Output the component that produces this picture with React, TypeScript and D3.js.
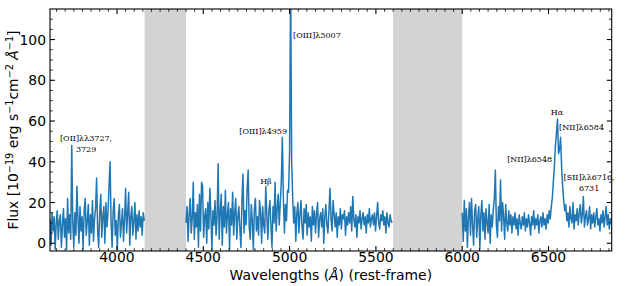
import { useEffect, useRef } from "react";
import * as d3 from "d3";

// spectrum sampled every 6 Å, three pieces between the masked regions
const STEP = 6;
const blueStart = 3612;
const blueFlux = [
  12, -1, 15, 6, 13, -3, 10, 16, 2, 11,
  14, -2, 9, 17, 3, 12, -3, 22, 5, 14,
  2, 48, 10, -2, 15, 4, 28, 12, 0, 18,
  6, 13, -3, 16, 22, 4, 11, 19, -1, 14,
  5, 21, 1, 12, 17, 32, 6, -2, 15, 24,
  3, 13, 18, 0, 20, 8, 15, 28, 40, 10,
  -2, 16, 22, 4, 11, -3, 14, 19, 3, 10,
  17, 1, 12, 27, 5, 15, 25, -1, 13, 18,
  4, 11, 20, 2, 14, 6, 16, 8, 13, 4,
  15, 11,
];
const midStart = 4400;
const midFlux = [
  10, 18, 1, 14, 22, 5, 12, 30, 2, 15,
  8, 19, -2, 24, 6, 30, 28, 3, 13, 17,
  0, 20, 7, 27, 14, -3, 16, 9, 21, 4,
  13, 39, 2, 15, 24, -1, 18, 8, 26, 5,
  14, 20, -3, 17, 9, 25, 4, 15, 22, 2,
  13, 18, 7, -2, 21, 34, 5, 16, 9, 27,
  36, 8, 2, 19, 11, -3, 17, 22, 6, 13,
  4, 21, 15, 0, 18, 9, 5, 28, 14, 2,
  16, 21, 8, -2, 18, 10, 30, 6, 17, 24,
  9, 20, 30, 52, 22, 5, 19, 11, 26, 25,
  45, 130, 40, 22, 10, 18, 1, 15, 20, 5,
  14, 21, 8, 2, 17, 10, 19, 4, 15, 8,
  13, 1, 18, 9, 16, 5, 14, 20, 3, 12,
  15, 8, 17, 0, 13, 19, 9, 5, 16, 27,
  12, 6, 21, 14, 8, 15, 3, 13, 9, 17,
  7, 14, 12, 16, 4, 13, 9, 15, 10, 18,
  6, 23, 12, 8, 14, 3, 13, 10, 16, 7,
  12, 15, 9, 13, 5, 14, 10, 17, 8, 12,
  14, 9, 15, 6, 13, 20, 10, 7, 14, 11,
  16, 9, 13, 5, 15, 10, 8, 14, 11, 10,
];
const redStart = 6000;
const redFlux = [
  15, 1, 21, 6, 17, -2, 13, 20, 4, 22,
  9, -1, 16, 19, 3, 12, 18, -3, 14, 21,
  6, 15, 2, 17, 10, 5, 19, 0, 14, 8,
  16, 22, 36, 9, 3, 18, 11, 31, 6, 20,
  13, 2, 19, 10, 6, 16, 9, 14, 5, 13,
  9, 15, 7, 12, 4, 14, 10, 7, 13, 9,
  15, 6, 12, 8, 14, 10, 4, 13, 9, 16,
  7, 12, 9, 14, 5, 11, 13, 8, 15, 9,
  12, 7, 14, 10, 16, 12, 18, 22, 30, 38,
  48, 54, 61, 44, 46, 52, 37, 28, 21, 16,
  19, 11, 15, 8, 18, 12, 10, 20, 7, 14,
  11, 17, 9, 15, 19, 10, 14, 23, 8, 13,
  16, 9, 12, 18, 7, 14, 10, 15, 8, 13,
  17, 9, 12, 6, 14, 10, 16, 8, 13, 18,
  9, 14, 7, 12, 11,
];

const maskStart = [4160, 5600];
const maskEnd = [4400, 6000];

const xTicks = [4000, 4500, 5000, 5500, 6000, 6500];
const yTicks = [0, 20, 40, 60, 80, 100];

type LineLabel = { lines: string[]; w: number; f: number; anchor: string };
const lineLabels: LineLabel[] = [
  { lines: ["[OII]λλ3727,", "3729"], w: 3821, f: 50.2, anchor: "middle" },
  { lines: ["[OIII]λ5007"], w: 5020, f: 100.7, anchor: "start" },
  { lines: ["[OIII]λ4959"], w: 4985, f: 53.6, anchor: "end" },
  { lines: ["Hβ"], w: 4863, f: 29.1, anchor: "middle" },
  { lines: ["Hα"], w: 6549, f: 63, anchor: "middle" },
  { lines: ["[NII]λ6584"], w: 6561, f: 55.6, anchor: "start" },
  { lines: ["[NII]λ6548"], w: 6521, f: 39.9, anchor: "end" },
  { lines: ["[SII]λλ6716,", "6731"], w: 6735, f: 31.1, anchor: "middle" },
];

type Pt = { w: number; f: number };

export default function App() {
  const ref = useRef<SVGSVGElement>(null);

  useEffect(() => {
    if (!ref.current) return;
    const svg = d3.select(ref.current);
    svg.selectAll("*").remove();

    const left = 50, right = 611.7, top = 9, bottom = 251;
    const x = d3.scaleLinear().domain([3612, 6866]).range([left, right]);
    const y = d3.scaleLinear().domain([-3.8, 115]).range([bottom, top]);

    svg
      .append("defs")
      .append("clipPath")
      .attr("id", "plotclip")
      .append("rect")
      .attr("x", left)
      .attr("y", top)
      .attr("width", right - left)
      .attr("height", bottom - top);

    // masked wavelength ranges
    svg
      .append("g")
      .selectAll("rect")
      .data(maskStart.map((s, i) => [s, maskEnd[i]]))
      .join("rect")
      .attr("x", (d) => x(d[0]))
      .attr("y", top)
      .attr("width", (d) => x(d[1]) - x(d[0]))
      .attr("height", bottom - top)
      .attr("fill", "#d3d3d3");

    const pieces: Pt[][] = [
      [blueStart, blueFlux],
      [midStart, midFlux],
      [redStart, redFlux],
    ].map(([s, vals]) =>
      (vals as number[]).map((f, i) => ({ w: (s as number) + i * STEP, f }))
    );

    const line = d3
      .line<Pt>()
      .x((d) => x(d.w))
      .y((d) => y(d.f));

    svg
      .append("g")
      .attr("clip-path", "url(#plotclip)")
      .selectAll("path")
      .data(pieces)
      .join("path")
      .attr("d", line)
      .attr("fill", "none")
      .attr("stroke", "#1f77b4")
      .attr("stroke-width", 1.5)
      .attr("stroke-linejoin", "round");

    // frame
    svg
      .append("rect")
      .attr("x", left)
      .attr("y", top)
      .attr("width", right - left)
      .attr("height", bottom - top)
      .attr("fill", "none")
      .attr("stroke", "#000")
      .attr("stroke-width", 1.1);

    // inward ticks on all four sides
    const ticks = svg.append("g").attr("stroke", "#000");
    const minorX = d3.range(3650, 6866, 50).filter((v) => v % 500 !== 0);
    const minorY = d3.range(5, 115, 5).filter((v) => v % 20 !== 0);
    const tickX = (vals: number[], len: number, w: number) => {
      vals.forEach((v) => {
        ticks.append("line").attr("x1", x(v)).attr("x2", x(v)).attr("y1", bottom).attr("y2", bottom - len).attr("stroke-width", w);
        ticks.append("line").attr("x1", x(v)).attr("x2", x(v)).attr("y1", top).attr("y2", top + len).attr("stroke-width", w);
      });
    };
    const tickY = (vals: number[], len: number, w: number) => {
      vals.forEach((v) => {
        ticks.append("line").attr("y1", y(v)).attr("y2", y(v)).attr("x1", left).attr("x2", left + len).attr("stroke-width", w);
        ticks.append("line").attr("y1", y(v)).attr("y2", y(v)).attr("x1", right).attr("x2", right - len).attr("stroke-width", w);
      });
    };
    tickX(xTicks, 4.9, 1.1);
    tickX(minorX, 2.8, 0.8);
    tickY(yTicks, 4.9, 1.1);
    tickY(minorY, 2.8, 0.8);

    const font = "'DejaVu Sans', sans-serif";
    svg
      .append("g")
      .selectAll("text")
      .data(xTicks)
      .join("text")
      .attr("x", (d) => x(d))
      .attr("y", 262)
      .attr("text-anchor", "middle")
      .style("font-family", font)
      .style("font-size", "13.9px")
      .text((d) => d);

    svg
      .append("g")
      .selectAll("text")
      .data(yTicks)
      .join("text")
      .attr("x", 46)
      .attr("y", (d) => y(d))
      .attr("dy", "0.36em")
      .attr("text-anchor", "end")
      .style("font-family", font)
      .style("font-size", "13.9px")
      .text((d) => d);

    // axis titles
    const xl = svg
      .append("text")
      .attr("x", (left + right) / 2)
      .attr("y", 280)
      .attr("text-anchor", "middle")
      .style("font-family", font)
      .style("font-size", "13.9px");
    xl.append("tspan").text("Wavelengths (");
    xl.append("tspan").style("font-style", "italic").text("Å");
    xl.append("tspan").text(") (rest-frame)");

    const yl = svg
      .append("text")
      .attr("transform", `translate(18,${(top + bottom) / 2}) rotate(-90)`)
      .attr("text-anchor", "middle")
      .style("font-family", font)
      .style("font-size", "13.9px");
    const sup = (t: string) =>
      yl.append("tspan").attr("dy", -5.5).style("font-size", "9.7px").text(t);
    const base = (t: string, italic = false) =>
      yl.append("tspan").attr("dy", 5.5).style("font-style", italic ? "italic" : "normal").text(t);
    yl.append("tspan").text("Flux [10");
    sup("−19");
    base(" erg s");
    sup("−1");
    base("cm");
    sup("−2");
    base(" Å", true);
    sup("−1");
    base("]");

    // emission line annotations
    const ann = svg
      .append("g")
      .style("font-family", "'DejaVu Serif', serif")
      .style("font-size", "8px");
    lineLabels.forEach((l) => {
      const t = ann
        .append("text")
        .attr("x", x(l.w))
        .attr("y", y(l.f))
        .attr("text-anchor", l.anchor);
      l.lines.forEach((s, i) =>
        t
          .append("tspan")
          .attr("x", x(l.w))
          .attr("dy", i === 0 ? 0 : 11)
          .text(s)
      );
    });
  }, []);

  return (
    <svg
      ref={ref}
      width={630}
      height={286}
      style={{ position: "absolute", left: 0, top: 0, background: "#fff" }}
    />
  );
}
